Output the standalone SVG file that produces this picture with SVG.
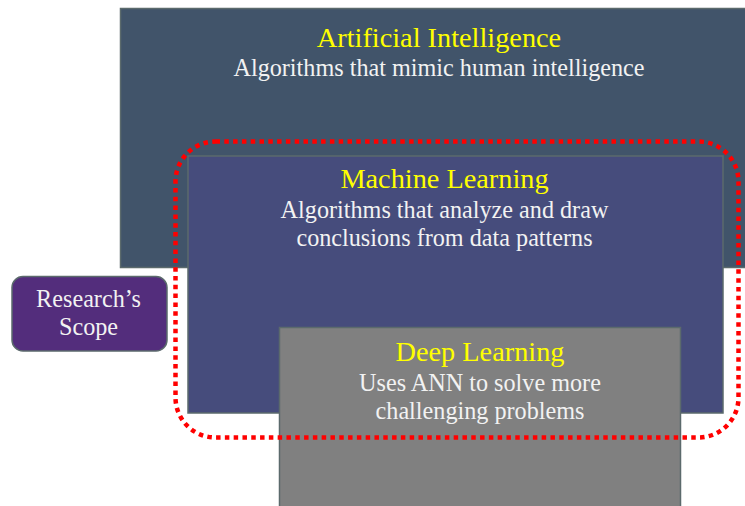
<svg xmlns="http://www.w3.org/2000/svg" width="745" height="506" viewBox="0 0 745 506">
  <style>
    .box { stroke: #5b6a6c; stroke-width: 1.5; }
    .title { font-family: "Liberation Serif", "Times New Roman", serif; font-size: 28.3px; fill: #ffff00; text-anchor: middle; }
    .body { font-family: "Liberation Serif", "Times New Roman", serif; font-size: 24.2px; fill: #f2f2f2; text-anchor: middle; }
    .scope { fill: none; stroke: #ff0000; stroke-width: 4.5; stroke-dasharray: 4.5 4.3; }
  </style>
  <rect width="745" height="506" fill="#ffffff"/>

  <g id="ai">
    <rect class="box" x="120.5" y="8.5" width="640" height="259" fill="#41546a"/>
    <text class="title" x="439" y="47">Artificial Intelligence</text>
    <text class="body" x="439" y="76">Algorithms that mimic human intelligence</text>
  </g>

  <g id="ml">
    <rect class="box" x="188" y="156" width="535" height="257" fill="#464c7c"/>
    <text class="title" x="444.5" y="187.5">Machine Learning</text>
    <text class="body" x="444.5" y="218">Algorithms that analyze and draw</text>
    <text class="body" x="444.5" y="245.5">conclusions from data patterns</text>
  </g>

  <g id="dl">
    <rect class="box" x="279.5" y="327.5" width="401" height="190" fill="#808080"/>
    <text class="title" x="480" y="361">Deep Learning</text>
    <text class="body" x="480" y="391">Uses ANN to solve more</text>
    <text class="body" x="480" y="419">challenging problems</text>
  </g>

  <g id="research-scope">
    <rect class="box" x="12" y="276.5" width="155" height="74.5" rx="11" fill="#532d7c"/>
    <text class="body" x="88.5" y="307">Research’s</text>
    <text class="body" x="88.5" y="335">Scope</text>
  </g>

  <g id="connectors">
    <rect class="scope" x="175.5" y="141.5" width="563" height="296" rx="40"/>
  </g>
</svg>
